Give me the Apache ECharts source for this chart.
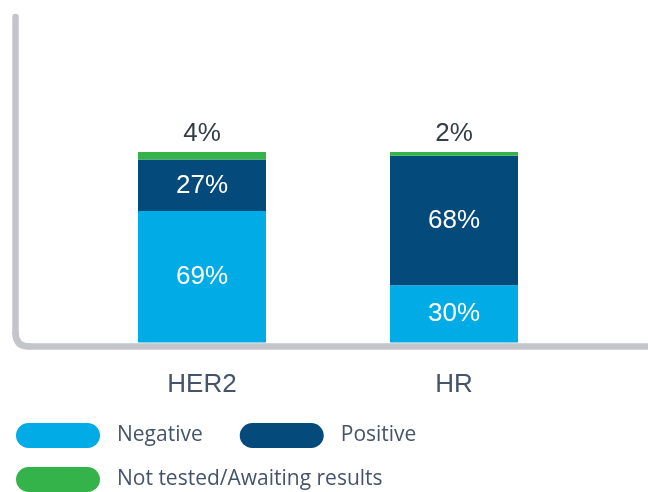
<!DOCTYPE html>
<html>
<head>
<meta charset="utf-8">
<script src="https://cdn.jsdelivr.net/npm/echarts@6/dist/echarts.min.js"></script>
<style>
  html, body { margin: 0; padding: 0; background: #fff; }
  #chart { width: 648px; height: 492px; }
</style>
</head>
<body>
<div id="chart"></div>
<script>
const categories = ["HER2", "HR"];
const negative = [69, 30];
const positive = [27, 68];
const notTested = [4, 2];

const myChart = echarts.init(document.getElementById("chart"));

const labelFont = "'Liberation Sans', Arial, sans-serif";
const legendFont = "'Open Sans', 'Noto Sans', sans-serif";

// 胶囊形图例图标
const pillIcon = "path://M12.5,0 H71.5 A12.5,12.5 0 0 1 71.5,25 H12.5 A12.5,12.5 0 0 1 12.5,0 Z";

// 坐标轴边框样式
const frameStyle = {
  fill: null,
  stroke: "#c4c4cb",
  lineWidth: 6.5,
  lineCap: "round",
};

const legendText = {
  color: "#44546a",
  fontSize: 21,
  fontFamily: legendFont,
  padding: [0, 0, 0, 12],
};

const option = {
  animation: false,
  grid: {
    left: 76,
    width: 504,
    top: 152,
    bottom: 149.5,
  },
  // 坐标轴边框（带圆角）
  graphic: [
    {
      type: "line",
      shape: { x1: 15.5, y1: 17, x2: 15.5, y2: 333 },
      style: frameStyle,
    },
    {
      type: "bezierCurve",
      shape: { x1: 15.5, y1: 333, cpx1: 15.5, cpy1: 346.5, x2: 29, y2: 346.5 },
      style: frameStyle,
    },
    {
      type: "line",
      shape: { x1: 29, y1: 346.5, x2: 652, y2: 346.5 },
      style: frameStyle,
    },
  ],
  xAxis: {
    type: "category",
    data: categories,
    axisLine: { show: false },
    axisTick: { show: false },
    axisLabel: {
      margin: 29,
      color: "#44546a",
      fontSize: 26,
      fontFamily: labelFont,
    },
  },
  yAxis: {
    type: "value",
    min: 0,
    max: 100,
    show: false,
  },
  legend: [
    {
      data: ["Negative", "Positive"],
      left: 16,
      top: 423,
      padding: 0,
      itemWidth: 84,
      itemHeight: 25,
      itemGap: 37,
      icon: pillIcon,
      textStyle: legendText,
    },
    {
      data: ["Not tested/Awaiting results"],
      left: 16,
      top: 467,
      padding: 0,
      itemWidth: 84,
      itemHeight: 25,
      icon: pillIcon,
      textStyle: legendText,
    },
  ],
  series: [
    {
      name: "Negative",
      type: "bar",
      stack: "total",
      barWidth: 128,
      data: negative,
      itemStyle: { color: "#00abe6" },
      label: {
        show: true,
        position: "inside",
        formatter: "{c}%",
        color: "#fff",
        fontSize: 26,
        fontFamily: labelFont,
      },
    },
    {
      name: "Positive",
      type: "bar",
      stack: "total",
      data: positive,
      itemStyle: { color: "#044b7b" },
      label: {
        show: true,
        position: "inside",
        formatter: "{c}%",
        color: "#fff",
        fontSize: 26,
        fontFamily: labelFont,
      },
    },
    {
      name: "Not tested/Awaiting results",
      type: "bar",
      stack: "total",
      data: notTested,
      itemStyle: { color: "#34b34a" },
      label: {
        show: true,
        position: "top",
        distance: 5,
        formatter: "{c}%",
        color: "#333d47",
        fontSize: 26,
        fontFamily: labelFont,
      },
    },
  ],
};

myChart.setOption(option);
window.addEventListener("resize", myChart.resize);
</script>
</body>
</html>
